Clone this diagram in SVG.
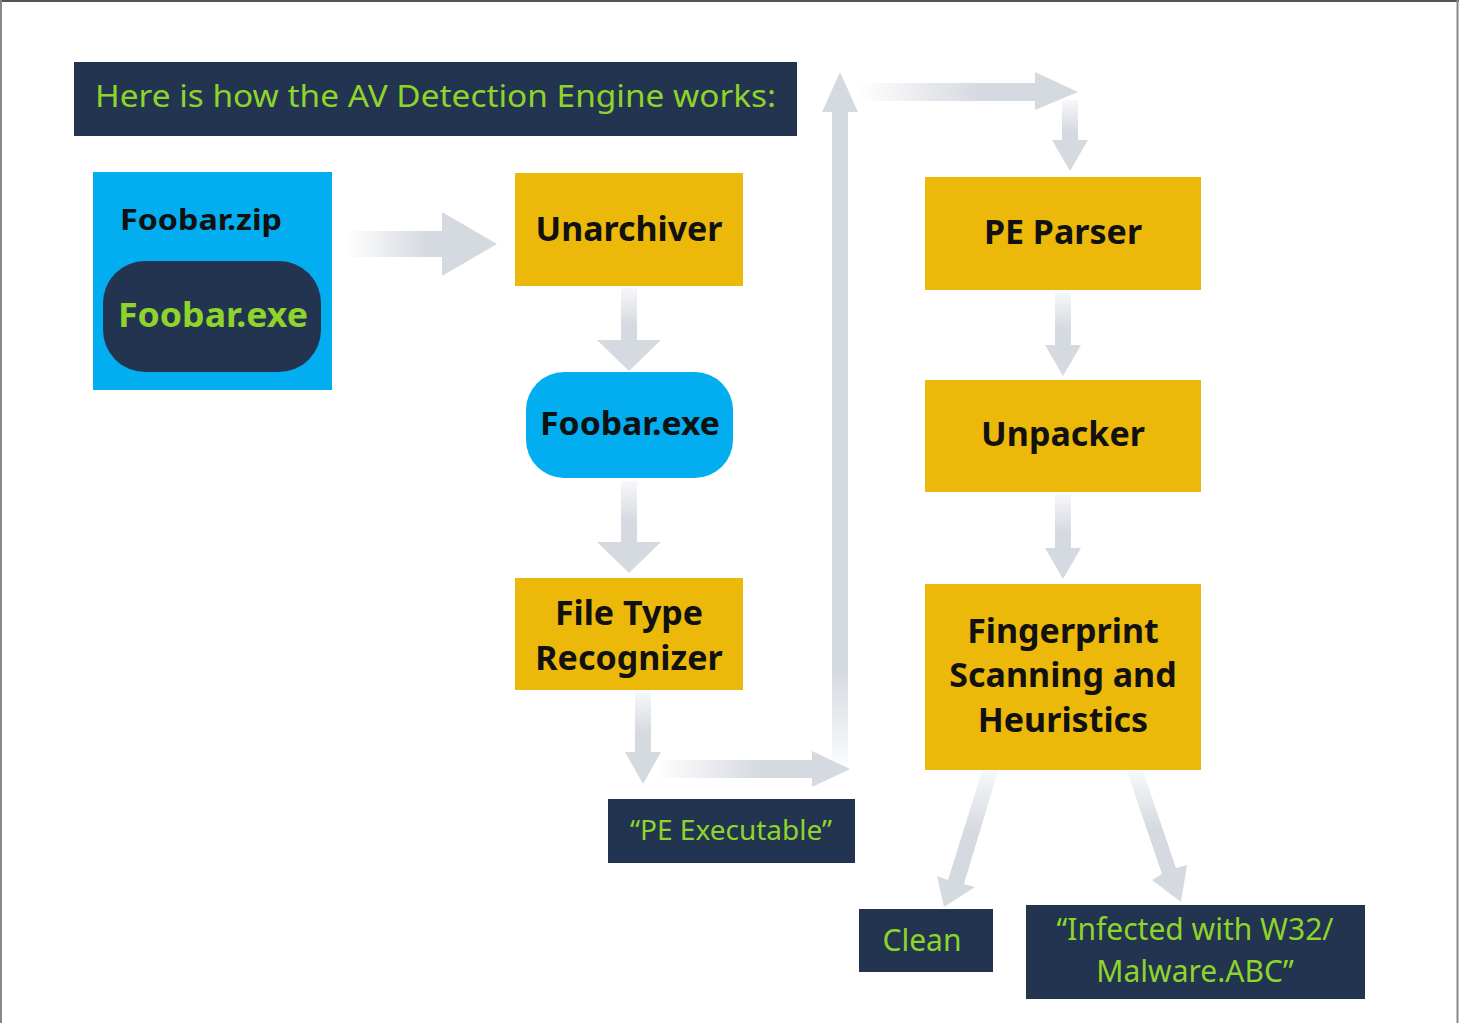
<svg xmlns="http://www.w3.org/2000/svg" width="1459" height="1023" viewBox="0 0 1459 1023">
<style>
.navy{fill:#233450}
.gold{fill:#ecb90a}
.cyan{fill:#02aeef}
.bt{font-family:"Noto Sans","Open Sans",sans-serif;font-weight:bold;fill:#111;text-anchor:middle}
.gt{font-family:"Noto Sans","Open Sans",sans-serif;fill:#8ed42a;text-anchor:middle}
.arr{fill:#d5d9e0}
</style>
<defs>
<linearGradient id="gR" x1="0" y1="0" x2="1" y2="0"><stop offset="0" stop-color="#d5d9e0" stop-opacity="0"/><stop offset="0.55" stop-color="#d5d9e0"/></linearGradient>
<linearGradient id="gD" x1="0" y1="0" x2="0" y2="1"><stop offset="0" stop-color="#d5d9e0" stop-opacity="0.2"/><stop offset="0.45" stop-color="#d5d9e0"/></linearGradient>
<linearGradient id="gU" x1="0" y1="1" x2="0" y2="0"><stop offset="0" stop-color="#d5d9e0" stop-opacity="0"/><stop offset="0.15" stop-color="#d5d9e0"/></linearGradient>
</defs>
<rect x="0" y="0" width="1459" height="1023" fill="#fff"/>
<line x1="0" y1="1" x2="1459" y2="1" stroke="#555" stroke-width="2"/>
<line x1="1" y1="0" x2="1" y2="1023" stroke="#888" stroke-width="2"/>
<line x1="1457.5" y1="0" x2="1457.5" y2="1023" stroke="#888" stroke-width="2"/>

<g id="connectors">
<path fill="url(#gR)" d="M345,231 H442 V212 L497,244 L442,276 V257 H345 Z"/>
<path fill="url(#gD)" d="M621,288 H637 V340 H661 L629,371 L597,340 H621 Z"/>
<path fill="url(#gD)" d="M621,481 H637 V542 H661 L629,573 L597,542 H621 Z"/>
<path fill="url(#gD)" d="M635,692 H651 V752 H661 L643,784 L625,752 H635 Z"/>
<path fill="url(#gR)" d="M655,760 H812 V751 L850,769 L812,787 V778 H655 Z"/>
<path fill="url(#gU)" d="M832,775 V112 H822 L840,72 L858,112 H848 V775 Z"/>
<path fill="url(#gR)" d="M858,83 H1035 V72 L1078,92 L1035,110 V101 H858 Z"/>
<path fill="url(#gD)" d="M1062,100 H1078 V140 H1088 L1070,171 L1052,140 H1062 Z"/>
<path fill="url(#gD)" d="M1055,292 H1071 V345 H1081 L1063,376 L1045,345 H1055 Z"/>
<path fill="url(#gD)" d="M1055,494 H1071 V548 H1081 L1063,579 L1045,548 H1055 Z"/>
<path fill="url(#gD)" d="M982,771 L998,771 L964,884 L975,887 L944,907 L937,876 L948,880 Z"/>
<path fill="url(#gD)" d="M1127,771 L1143,771 L1176,868 L1187,865 L1181,902 L1152,880 L1162,874 Z"/>
</g>

<g id="title"><rect class="navy" x="74" y="62" width="723" height="74"/>
<text class="gt" x="95" y="107" font-size="31" style="text-anchor:start" textLength="681" lengthAdjust="spacingAndGlyphs">Here is how the AV Detection Engine works:</text></g>

<g id="foobar-zip"><rect class="cyan" x="93" y="172" width="239" height="218"/>
<text class="bt" x="201" y="230" font-size="29" textLength="162" lengthAdjust="spacingAndGlyphs">Foobar.zip</text>
<rect class="navy" x="103" y="261" width="218" height="111" rx="42"/>
<text class="bt" x="213" y="327" font-size="34" style="fill:#8ed42a" textLength="190" lengthAdjust="spacingAndGlyphs">Foobar.exe</text></g>

<g id="unarchiver"><rect class="gold" x="515" y="173" width="228" height="113"/>
<text class="bt" x="629" y="241" font-size="34" textLength="187" lengthAdjust="spacingAndGlyphs">Unarchiver</text></g>

<g id="foobar-exe"><rect class="cyan" x="526" y="372" width="207" height="106" rx="38"/>
<text class="bt" x="630" y="435" font-size="32" textLength="180" lengthAdjust="spacingAndGlyphs">Foobar.exe</text></g>

<g id="file-type"><rect class="gold" x="515" y="578" width="228" height="112"/>
<text class="bt" x="629" y="625" font-size="34">File Type</text>
<text class="bt" x="629" y="670" font-size="34">Recognizer</text></g>

<g id="pe-exec"><rect class="navy" x="608" y="799" width="247" height="64"/>
<text class="gt" x="731" y="840" font-size="28">“PE Executable”</text></g>

<g id="pe-parser"><rect class="gold" x="925" y="177" width="276" height="113"/>
<text class="bt" x="1063" y="244" font-size="34">PE Parser</text></g>

<g id="unpacker"><rect class="gold" x="925" y="380" width="276" height="112"/>
<text class="bt" x="1063" y="446" font-size="34">Unpacker</text></g>

<g id="fingerprint"><rect class="gold" x="925" y="584" width="276" height="186"/>
<text class="bt" x="1063" y="643" font-size="34">Fingerprint</text>
<text class="bt" x="1063" y="687" font-size="34">Scanning and</text>
<text class="bt" x="1063" y="732" font-size="34">Heuristics</text></g>

<g id="clean"><rect class="navy" x="859" y="909" width="134" height="63"/>
<text class="gt" x="922" y="951" font-size="30">Clean</text></g>

<g id="infected"><rect class="navy" x="1026" y="905" width="339" height="94"/>
<text class="gt" x="1195" y="940" font-size="30">“Infected with W32/</text>
<text class="gt" x="1195" y="982" font-size="30">Malware.ABC”</text></g>
</svg>
